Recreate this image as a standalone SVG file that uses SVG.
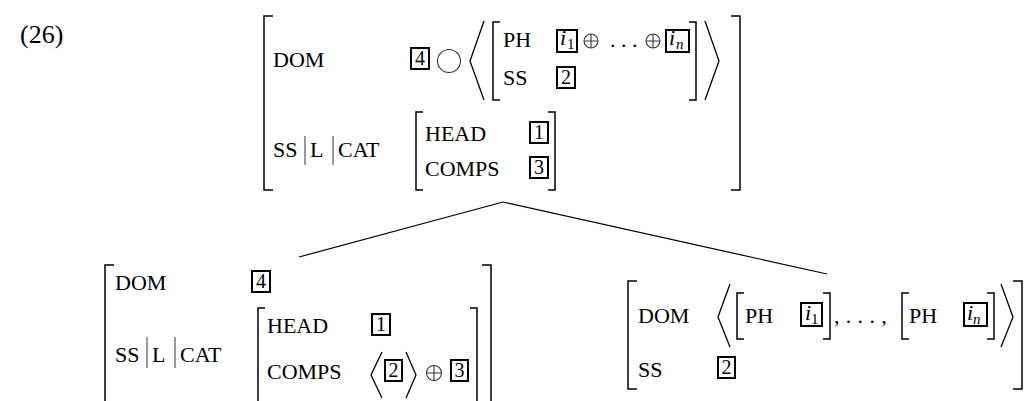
<svg xmlns="http://www.w3.org/2000/svg" width="1029" height="401" viewBox="0 0 1029 401">
<style>
.t{font-family:"Liberation Serif","Times New Roman",serif;font-size:22px;fill:#000}
.n{font-size:26px}
.d{font-size:20px;text-anchor:middle}
.i{font-style:italic}
.s{font-size:15px}
.br{fill:none;stroke:#000;stroke-width:1.5}
.box{fill:none;stroke:#000;stroke-width:2}
.bar{stroke:#555;stroke-width:1.2}
.ang{fill:none;stroke:#000;stroke-width:1.3}
.op{fill:none;stroke:#333;stroke-width:1.1}
.edge{fill:none;stroke:#000;stroke-width:1.2}
</style>
<rect width="1029" height="401" fill="#fff"/>
<g id="example-number"><text class="t n" x="20" y="43">(26)</text></g>

<g id="avm-mother">
<path class="br" d="M273 16H264V190H273"/>
<path class="br" d="M731 16H740V190H731"/>
<text class="t" x="273" y="67">DOM</text>
<rect class="box" x="411" y="48" width="18" height="21"/>
<text class="t d" x="420" y="65">4</text>
<circle class="op" cx="449" cy="61" r="11.5"/>
<path class="ang" d="M484 21L470 61L484 100"/>
<path class="br" d="M500 22H493V100H500"/>
<text class="t" x="503" y="47">PH</text>
<text class="t" x="503" y="85">SS</text>
<rect class="box" x="557" y="30" width="20" height="22"/>
<text class="t i" x="560" y="45">i</text><text class="t s" x="567" y="49">1</text>
<g class="op"><circle cx="591" cy="41" r="7"/><path d="M584 41H598M591 34V48"/></g>
<text class="t" x="610" y="47">. . .</text>
<g class="op"><circle cx="653" cy="41" r="7"/><path d="M646 41H660M653 34V48"/></g>
<rect class="box" x="666" y="30" width="23" height="22"/>
<text class="t i" x="669" y="45">i</text><text class="t s i" x="676" y="49">n</text>
<path class="br" d="M689 22H696V100H689"/>
<path class="ang" d="M705 21L719 61L705 100"/>
<rect class="box" x="557" y="67" width="18" height="21"/>
<text class="t d" x="566" y="84">2</text>
<text class="t" x="273" y="157">SS</text>
<line class="bar" x1="305" y1="136" x2="305" y2="165"/>
<text class="t" x="310" y="157">L</text>
<line class="bar" x1="333" y1="136" x2="333" y2="165"/>
<text class="t" x="338" y="157">CAT</text>
<path class="br" d="M423 112H416V190H423"/>
<text class="t" x="425" y="141">HEAD</text>
<text class="t" x="425" y="176">COMPS</text>
<rect class="box" x="530" y="122" width="18" height="21"/>
<text class="t d" x="539" y="139">1</text>
<rect class="box" x="530" y="157" width="18" height="21"/>
<text class="t d" x="539" y="174">3</text>
<path class="br" d="M548 112H555V190H548"/>
</g>

<g id="avm-head-daughter">
<path class="br" d="M114 265H105V405"/>
<path class="br" d="M482 265H491V405"/>
<text class="t" x="115" y="290">DOM</text>
<rect class="box" x="252" y="271" width="18" height="21"/>
<text class="t d" x="261" y="288">4</text>
<text class="t" x="115" y="362">SS</text>
<line class="bar" x1="147" y1="337" x2="147" y2="368"/>
<text class="t" x="152" y="362">L</text>
<line class="bar" x1="175" y1="337" x2="175" y2="368"/>
<text class="t" x="180" y="362">CAT</text>
<path class="br" d="M265 308H258V405"/>
<text class="t" x="267" y="333">HEAD</text>
<text class="t" x="267" y="379">COMPS</text>
<rect class="box" x="372" y="314" width="18" height="21"/>
<text class="t d" x="381" y="331">1</text>
<path class="ang" d="M382 352L371 375L382 398"/>
<rect class="box" x="385" y="360" width="17" height="21"/>
<text class="t d" x="393.5" y="377">2</text>
<path class="ang" d="M406 352L416 375L406 398"/>
<g class="op"><circle cx="434" cy="373" r="7.5"/><path d="M426.5 373H441.5M434 365.5V380.5"/></g>
<rect class="box" x="451" y="360" width="17" height="21"/>
<text class="t d" x="459.5" y="377">3</text>
<path class="br" d="M470 308H477V405"/>
</g>

<g id="avm-nonhead-daughter">
<path class="br" d="M637 281H628V389H637"/>
<path class="br" d="M1013 281H1022V389H1013"/>
<text class="t" x="638" y="323">DOM</text>
<path class="ang" d="M730 284L718 317L730 347"/>
<path class="br" d="M744 293H737V339H744"/>
<text class="t" x="745" y="323">PH</text>
<rect class="box" x="801" y="303" width="21" height="23"/>
<text class="t i" x="805" y="320">i</text><text class="t s" x="811" y="324">1</text>
<path class="br" d="M823 293H830V339H823"/>
<text class="t" x="834" y="323" letter-spacing="0.4">, . . . ,</text>
<path class="br" d="M909 293H902V339H909"/>
<text class="t" x="909" y="323">PH</text>
<rect class="box" x="964" y="303" width="23" height="23"/>
<text class="t i" x="967" y="320">i</text><text class="t s i" x="973" y="324">n</text>
<path class="br" d="M987 293H994V339H987"/>
<path class="ang" d="M1001 284L1013 317L1001 347"/>
<text class="t" x="638" y="377">SS</text>
<rect class="box" x="718" y="357" width="17" height="21"/>
<text class="t d" x="726.5" y="374">2</text>
</g>

<g id="connectors">
<line class="edge" x1="503" y1="202" x2="299" y2="257"/>
<line class="edge" x1="503" y1="202" x2="827" y2="274"/>
</g>
</svg>
